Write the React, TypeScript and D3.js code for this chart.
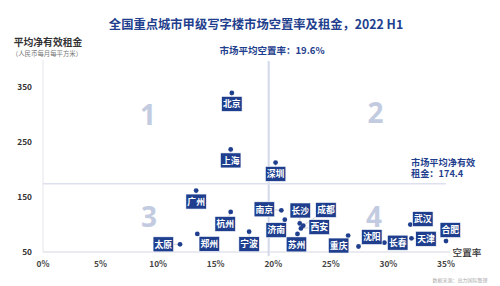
import React from "react";
import * as d3 from "d3";

const cities = ["北京", "上海", "深圳", "广州", "杭州", "郑州", "太原", "宁波", "南京", "济南", "长沙", "成都", "西安", "苏州", "重庆", "沈阳", "长春", "武汉", "天津", "合肥"];
const vacancy = [16.4, 16.3, 20.2, 13.3, 16.3, 13.4, 11.9, 17.9, 20.7, 21.0, 22.3, 22.6, 22.4, 22.1, 26.5, 27.4, 29.65, 31.9, 32.0, 35.0];
const rent = [340, 237, 213, 162, 123, 83, 64, 87, 126, 109, 102, 98, 93, 83, 80, 60, 67, 100, 75, 70];
const xTicks = [0, 5, 10, 15, 20, 25, 30, 35];
const yTicks = [50, 150, 250, 350];
const avgVacancy = 19.6;
const avgRent = 174.4;

// label box offsets (layout only): box centre relative to dot, in px
const labelOffset: Record<string, [number, number]> = {
  北京: [0, 11], 上海: [0, 11], 深圳: [0, 11.3], 广州: [0, 11], 杭州: [-5.5, 12],
  郑州: [12, 10], 太原: [-16.7, 0], 宁波: [0, 12.5], 南京: [-17, -1], 济南: [-8.6, 10.5],
  长沙: [0.5, -13], 成都: [22.7, -15.7], 西安: [18.3, -1.3], 苏州: [-1, 10.5], 重庆: [-9.5, 10],
  沈阳: [13.3, -9.5], 长春: [13.3, 0], 武汉: [12.5, -5.5], 天津: [14.5, 0.5], 合肥: [4.3, -11],
};

const FONT = "'Noto Sans CJK SC', 'Noto Sans', sans-serif";
const NAVY = "#1f3f8e";

export default function App() {
  const W = 500, H = 286;
  const x = d3.scaleLinear().domain([0, 35]).range([43, 446]);
  const y = d3.scaleLinear().domain([50, 400]).range([252, 60]);
  const bw = 20.5, bh = 15;

  const pts = cities.map((c, i) => ({ c, px: x(vacancy[i]), py: y(rent[i]), off: labelOffset[c] || [0, 11] }));

  return (
    <svg width={W} height={H} style={{ position: "absolute", left: 0, top: 0, background: "#fff" }} fontFamily={FONT}>
      <rect width={W} height={H} fill="#fff" />
      {/* title */}
      <text x={256} y={29} textAnchor="middle" fontSize={12.3} fontWeight={700} fill={NAVY}>全国重点城市甲级写字楼市场空置率及租金，2022 H1</text>
      {/* y title */}
      <text x={48} y={46} textAnchor="middle" fontSize={9.8} fontWeight={700} fill="#333">平均净有效租金</text>
      <text x={47} y={56} textAnchor="middle" fontSize={6.4} fill="#777">（人民币每月每平方米）</text>

      {/* quadrant numbers */}
      <g fontSize={28} fontWeight={700} fill="#c3cbe1" textAnchor="middle" fontFamily="'Open Sans', 'Noto Sans', sans-serif">
        <text x={148} y={125}>1</text>
        <text x={375.5} y={123}>2</text>
        <text x={149} y={227}>3</text>
        <text x={374} y={226.5}>4</text>
      </g>

      {/* axes */}
      <line x1={x(0)} x2={x(0)} y1={y(400)} y2={y(50)} stroke="#e4e6ee" strokeWidth={1} />
      <line x1={x(0)} x2={450} y1={y(50)} y2={y(50)} stroke="#e2e4ec" strokeWidth={1.5} />
      {yTicks.map((t) => (
        <text key={t} x={32} y={y(t) + 3} textAnchor="end" fontSize={8.3} fontWeight={600} fill="#333">{t}</text>
      ))}
      {xTicks.map((t) => (
        <text key={t} x={x(t)} y={267} textAnchor="middle" fontSize={8.3} fontWeight={600} fill="#444">{t}%</text>
      ))}
      <text x={467} y={255.5} textAnchor="middle" fontSize={9.6} fontWeight={500} fill="#333">空置率</text>

      {/* average lines */}
      <line x1={x(avgVacancy)} x2={x(avgVacancy)} y1={61} y2={256} stroke="#d3d8ea" strokeWidth={2} />
      <line x1={x(0)} x2={x(35)} y1={y(avgRent)} y2={y(avgRent)} stroke="#dde1ee" strokeWidth={1.5} />
      <text x={272} y={54} textAnchor="middle" fontSize={9.5} fontWeight={700} fill={NAVY}>市场平均空置率：{avgVacancy}%</text>
      <text x={411} y={165.5} fontSize={9.2} fontWeight={700} fill={NAVY}>市场平均净有效</text>
      <text x={411} y={176.5} fontSize={9.2} fontWeight={700} fill={NAVY}>租金：{avgRent}</text>

      {/* leader lines */}
      {pts.map((p) => (
        <line key={"l" + p.c} x1={p.px} y1={p.py} x2={p.px + p.off[0]} y2={p.py + p.off[1]} stroke="#c4c4c4" strokeWidth={0.8} />
      ))}
      {/* dots */}
      {pts.map((p) => (
        <circle key={"d" + p.c} cx={p.px} cy={p.py} r={2.4} fill={NAVY} />
      ))}
      {/* label boxes */}
      {pts.map((p) => (
        <g key={"b" + p.c} transform={`translate(${p.px + p.off[0]},${p.py + p.off[1]})`}>
          <rect x={-bw / 2} y={-bh / 2} width={bw} height={bh} fill={NAVY} stroke="#fff" strokeWidth={0.6} />
          <text x={0} y={3.2} textAnchor="middle" fontSize={8.8} fontWeight={700} fill="#fff">{p.c}</text>
        </g>
      ))}

      <text x={460} y={281.5} textAnchor="middle" fontSize={5} fill="#aaa">数据来源：高力国际整理</text>
    </svg>
  );
}
